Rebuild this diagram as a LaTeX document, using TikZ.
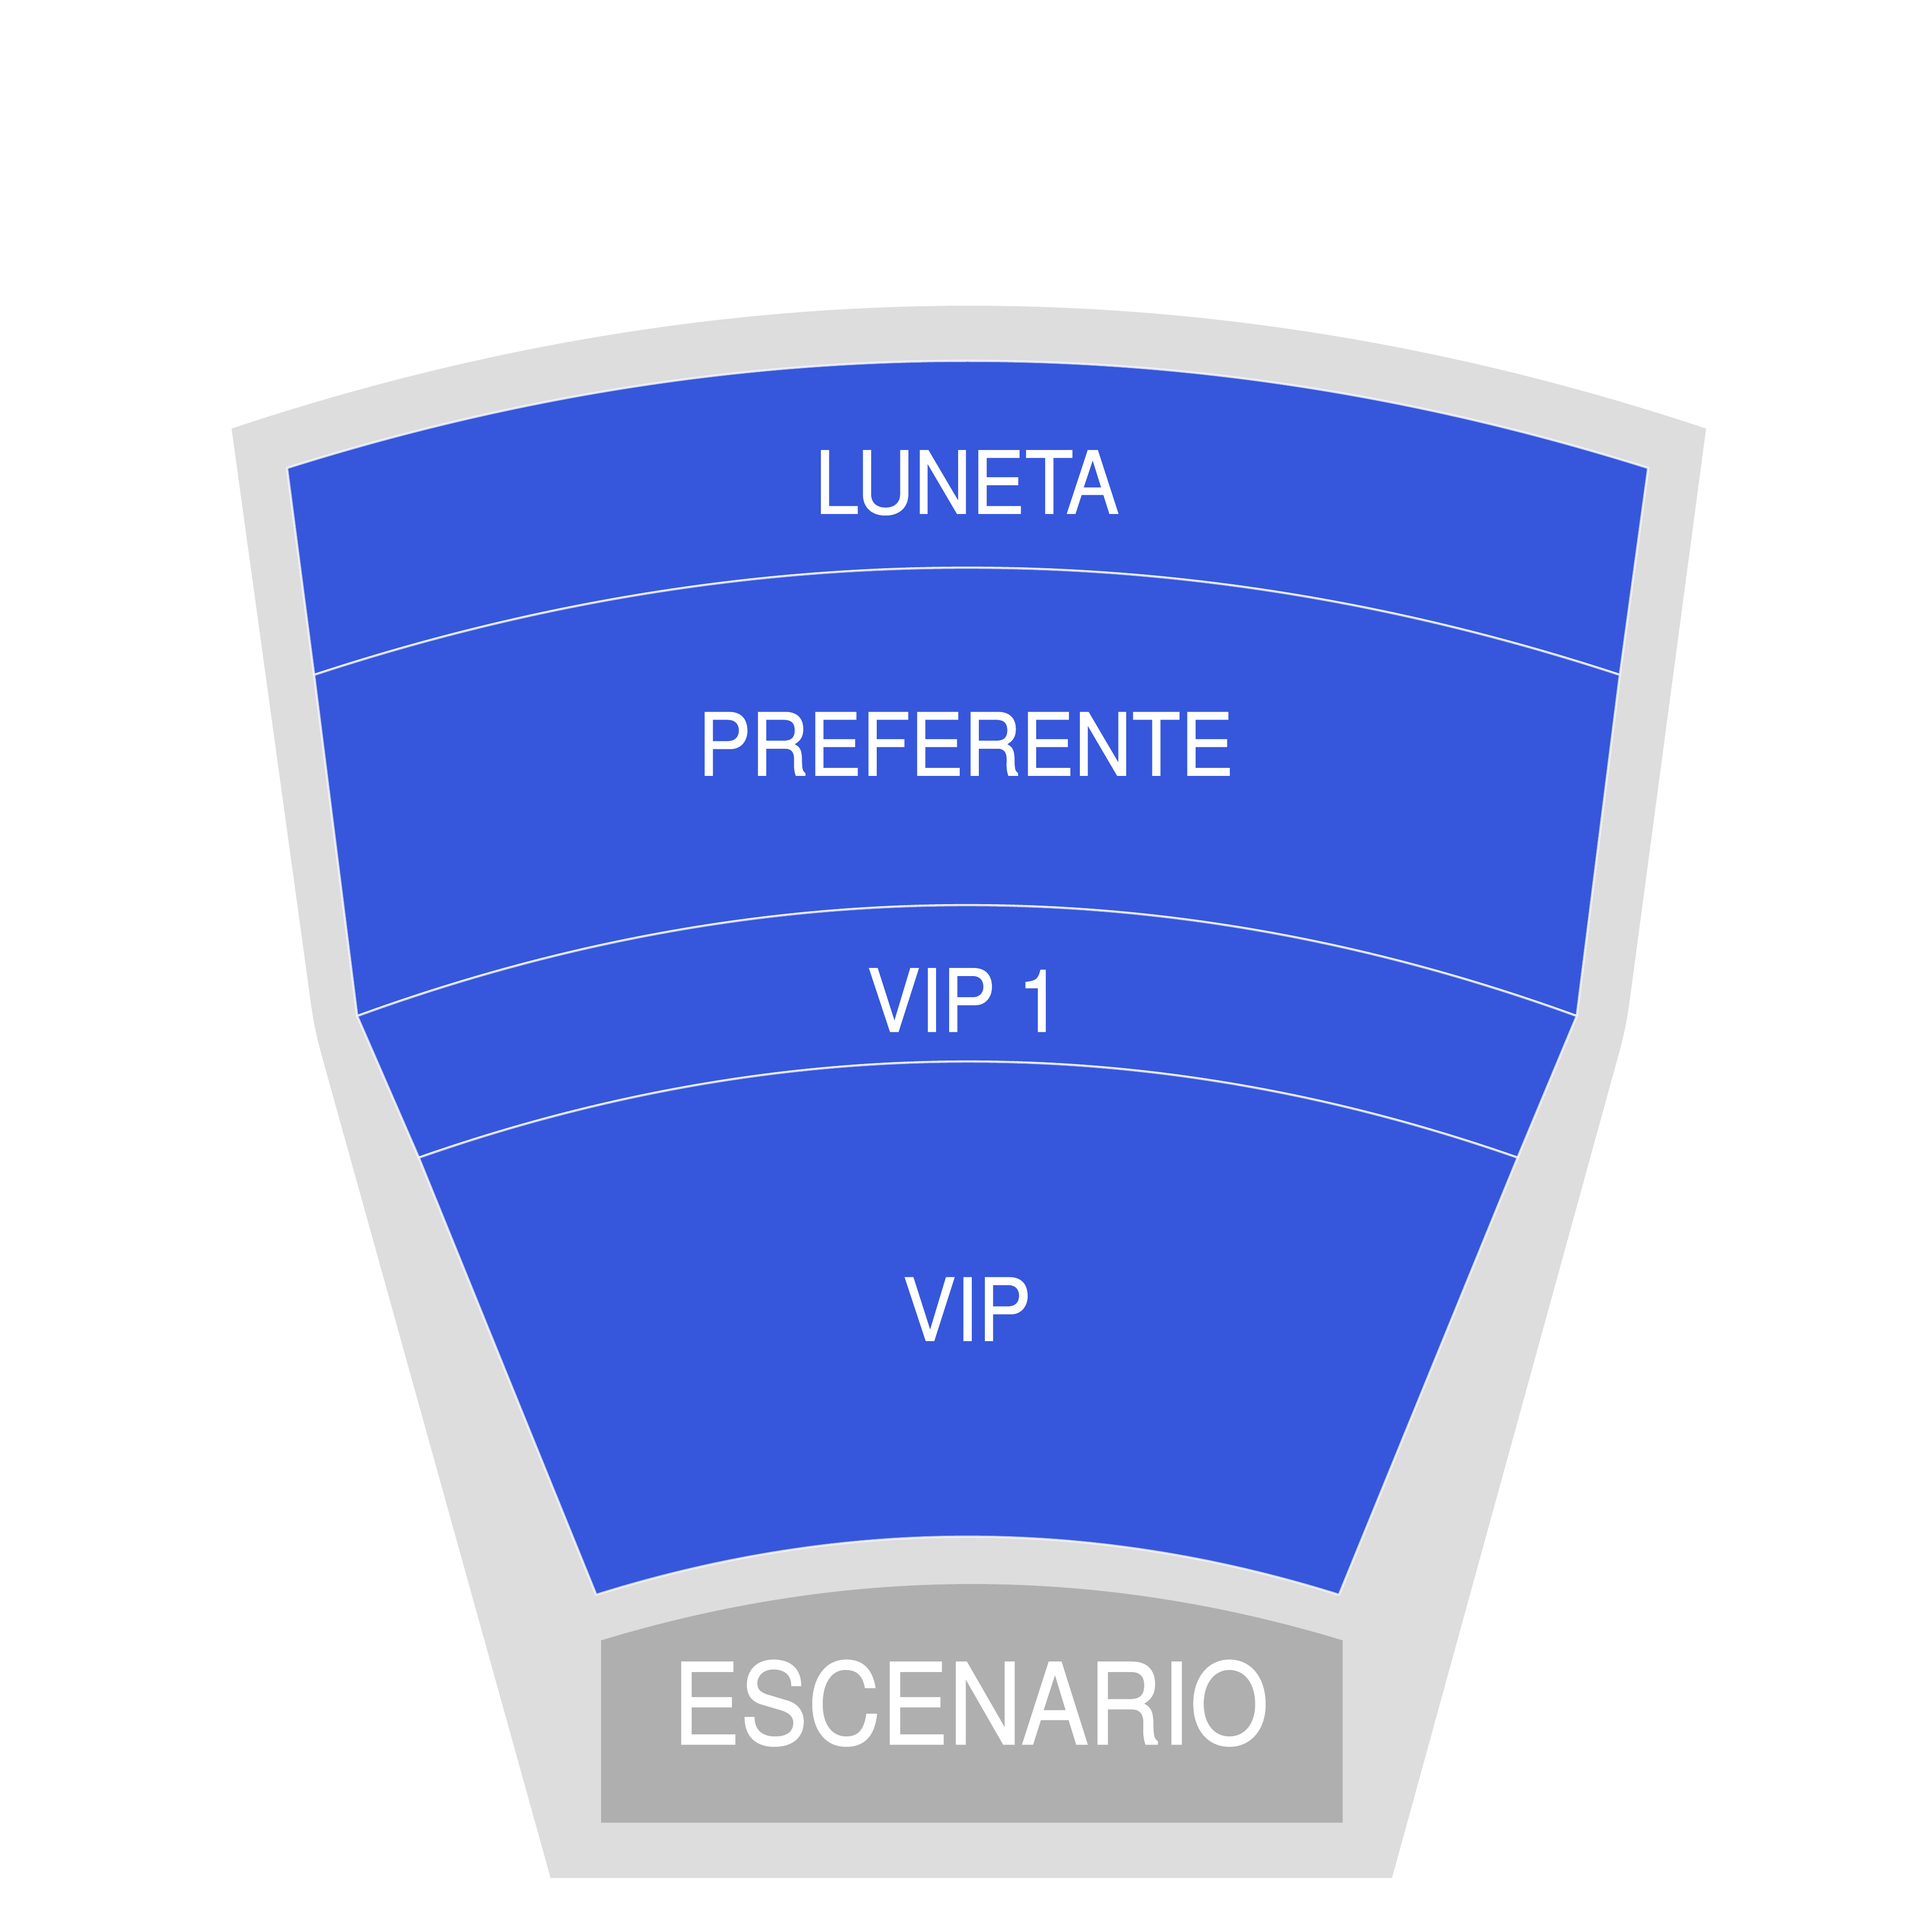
\documentclass[tikz,border=0pt]{standalone}
\usepackage{fontspec}
\setmainfont{TeX Gyre Heros}
\newfontfamily\seatfont[FakeBold=1]{TeX Gyre Heros}
\usepackage{tikz}
\newcommand{\narrow}[2][0.92]{\scalebox{#1}[1]{#2}}
\definecolor{seatblue}{HTML}{3657DB}
\definecolor{hallgray}{HTML}{DDDDDD}
\definecolor{stagegray}{HTML}{AFAFAF}
\tikzstyle{hall} = [fill=hallgray,draw=none]
\tikzstyle{section} = [fill=seatblue,draw=white,draw opacity=0.75,line width=0.5pt,line join=round]
\tikzstyle{stage} = [fill=stagegray,draw=none]
\tikzstyle{seatlabel} = [white,inner sep=0pt,font=\seatfont\fontsize{20}{24}\selectfont]
\tikzstyle{stagelabel} = [white,inner sep=0pt,font=\seatfont\fontsize{26}{30}\selectfont]

\begin{document}
\begin{tikzpicture}[x=0.01cm,y=-0.01cm]
	\useasboundingbox (0,0) rectangle (1568,1568);
	% hall
	\path[hall] (188,348) .. controls (587,215) and (986,215) .. (1385,348)
		-- (1326,790) .. controls (1320,835) .. (1308,878)
		-- (1130,1525) -- (447,1525)
		-- (267,878) .. controls (255,835) .. (249,790) -- cycle;
	% corners of the sections
	\coordinate (l0) at (233,380);  \coordinate (r0) at (1338,380);
	\coordinate (l1) at (255,548);  \coordinate (r1) at (1315,548);
	\coordinate (l2) at (290,825);  \coordinate (r2) at (1280,825);
	\coordinate (l3) at (340,940);  \coordinate (r3) at (1232,940);
	\coordinate (l4) at (484,1295); \coordinate (r4) at (1087,1295);
	% sections
	\path[section] (l0) .. controls (601,264) and (970,264) .. (r0)
		-- (r1) .. controls (962,432) and (608,432) .. (l1) -- cycle;
	\path[section] (l1) .. controls (608,432) and (962,432) .. (r1)
		-- (r2) .. controls (950,705) and (620,705) .. (l2) -- cycle;
	\path[section] (l2) .. controls (620,705) and (950,705) .. (r2)
		-- (r3) .. controls (935,836) and (637,836) .. (l3) -- cycle;
	\path[section] (l3) .. controls (637,836) and (935,836) .. (r3)
		-- (r4) .. controls (886,1232) and (685,1232) .. (l4) -- cycle;
	% stage
	\path[stage] (488,1480) -- (488,1332) .. controls (689,1271) and (889,1271) .. (1090,1332)
		-- (1090,1480) -- cycle;
	\node[seatlabel] (luneta) at (785,392) {\narrow{LUNETA}};
	\node[seatlabel] (preferente) at (784,604) {\narrow{PREFERENTE}};
	\node[seatlabel] (vipuno) at (783,812) {\narrow{VIP 1}};
	\node[seatlabel] (vip) at (785,1063) {\narrow{VIP}};
	\node[stagelabel] (escenario) at (788,1383) {\narrow[0.9]{ESCENARIO}};
\end{tikzpicture}
\end{document}
